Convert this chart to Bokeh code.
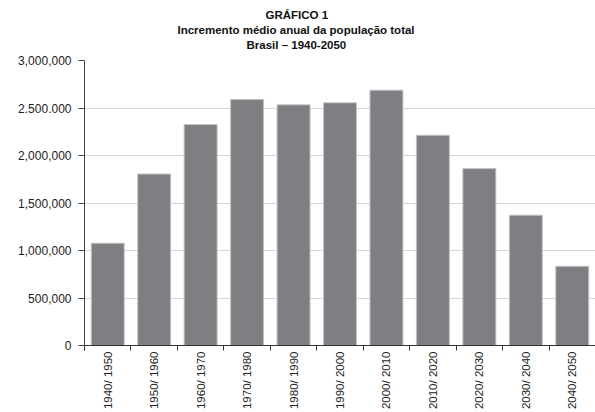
import math
from bokeh.plotting import figure
from bokeh.models import FixedTicker, Title
from bokeh.embed import file_html
from bokeh.resources import INLINE

periods = ["1940/ 1950", "1950/ 1960", "1960/ 1970", "1970/ 1980", "1980/ 1990",
           "1990/ 2000", "2000/ 2010", "2010/ 2020", "2020/ 2030", "2030/ 2040", "2040/ 2050"]
increments = [1077000, 1805000, 2326000, 2590000, 2533000, 2555000,
              2688000, 2213000, 1862000, 1372000, 834000]
y_ticks = [0, 500000, 1000000, 1500000, 2000000, 2500000, 3000000]
y_tick_labels = ["0", "500,000", "1,000,000", "1,500,000", "2,000,000", "2.500.000", "3,000,000"]
title_lines = ["GRÁFICO 1", "Incremento médio anual da população total", "Brasil – 1940-2050"]
title_offsets = [181, 93, 162]

FONT = "Liberation Sans"
idx = list(range(len(periods)))

p = figure(width=595, height=412, output_backend="svg", toolbar_location=None,
           x_range=(-0.5, len(periods) - 0.5), y_range=(0, y_ticks[-1]),
           min_border_left=84, min_border_right=0, min_border_top=60, min_border_bottom=67)
p.outline_line_color = None
p.background_fill_color = "white"
p.border_fill_color = "white"

p.vbar(x=idx, top=increments, width=0.71, fill_color="#7f7f83", line_color="#c4c4c6", line_width=1)

# grid
p.xgrid.grid_line_color = None
p.ygrid.grid_line_color = "#d6d6d6"
p.ygrid.grid_line_width = 1

# y axis
p.yaxis.ticker = FixedTicker(ticks=y_ticks, minor_ticks=[])
p.yaxis.major_label_overrides = {t: l for t, l in zip(y_ticks, y_tick_labels)}
p.yaxis.axis_line_color = "#444444"
p.yaxis.major_tick_line_color = "#444444"
p.yaxis.major_tick_in = 0
p.yaxis.major_tick_out = 6
p.yaxis.minor_tick_line_color = None
p.yaxis.major_label_text_font = FONT
p.yaxis.major_label_text_font_size = "12px"
p.yaxis.major_label_text_color = "#222222"
p.yaxis.major_label_standoff = 7

# x axis
bounds = [i - 0.5 for i in range(len(periods) + 1)]
p.xaxis.ticker = FixedTicker(ticks=idx, minor_ticks=bounds)
p.xaxis.major_label_overrides = {i: l for i, l in zip(idx, periods)}
p.xaxis.major_label_orientation = math.pi / 2
p.xaxis.axis_line_color = "#333333"
p.xaxis.major_tick_line_color = None
p.xaxis.major_tick_in = 0
p.xaxis.major_tick_out = 5
p.xaxis.minor_tick_line_color = "#333333"
p.xaxis.minor_tick_in = 0
p.xaxis.minor_tick_out = 5
p.xaxis.major_label_text_font = FONT
p.xaxis.major_label_text_font_size = "11.5px"
p.xaxis.major_label_text_color = "#222222"
p.xaxis.major_label_standoff = 1

# spacer between frame and the title block
p.add_layout(Title(text=" ", standoff=6, text_font_size="1px"), "above")
# title lines: added innermost first
for line, off in reversed(list(zip(title_lines, title_offsets))):
    p.add_layout(Title(text=line, align="left", offset=off, standoff=1,
                       text_font=FONT, text_font_size="11.5px", text_font_style="bold",
                       text_color="#111111"), "above")

open("out.html", "w").write(file_html(p, INLINE))
